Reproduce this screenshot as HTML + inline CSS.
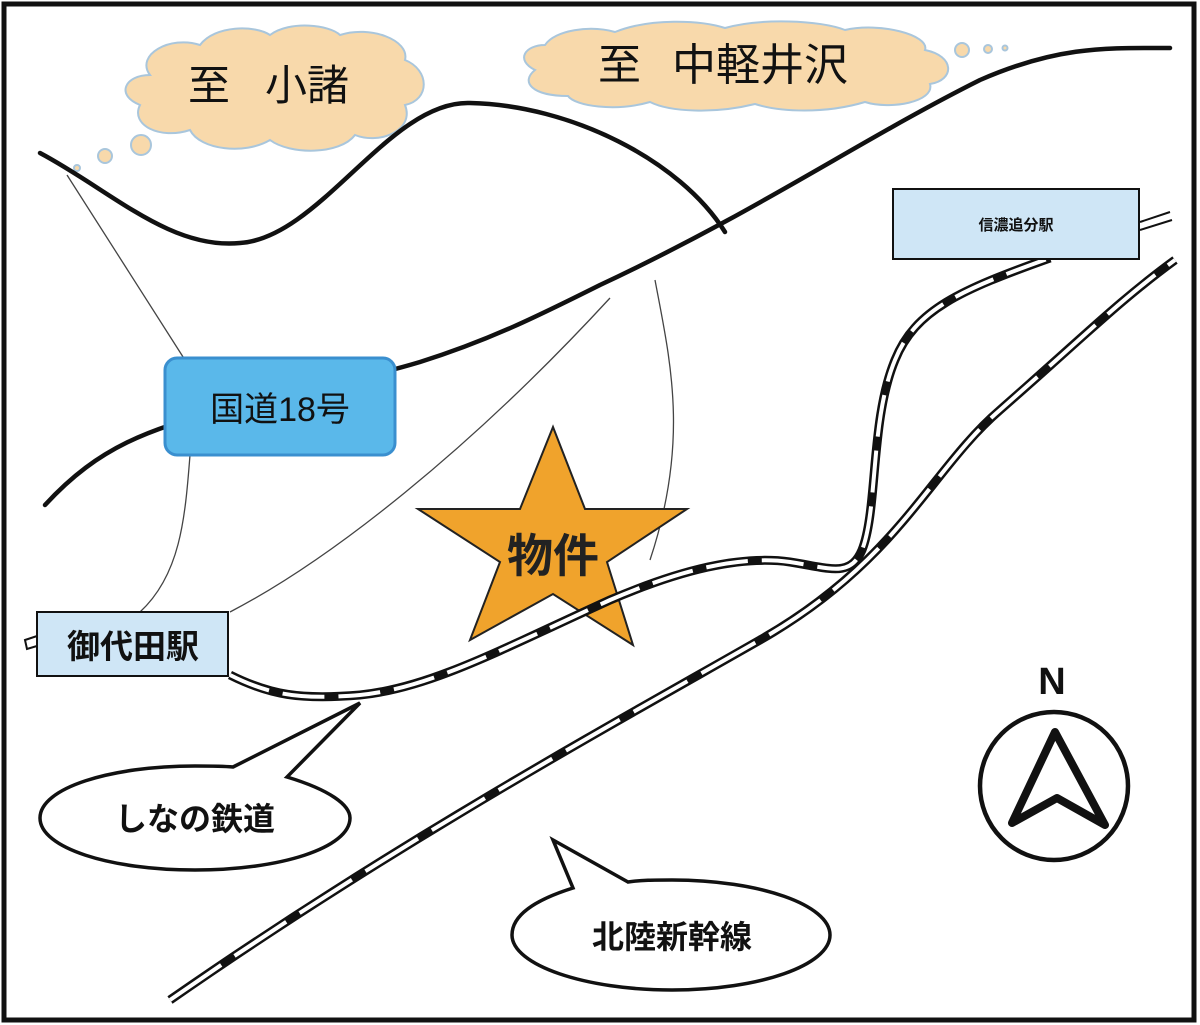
<!DOCTYPE html>
<html><head><meta charset="utf-8"><style>
html,body{margin:0;padding:0;background:#fff;}
svg{display:block;}
text{font-family:"Liberation Sans","Noto Sans CJK JP",sans-serif;}
</style></head><body>
<svg width="1200" height="1025" viewBox="0 0 1200 1025" xmlns="http://www.w3.org/2000/svg">
<rect x="0" y="0" width="1200" height="1025" fill="#fff"/>
<rect x="4" y="4" width="1190" height="1016" fill="none" stroke="#111" stroke-width="5"/>

<!-- clouds -->
<g fill="#f8d9ab" stroke="#a9c6dc" stroke-width="2">
 <path d="M150,75 C135,55 170,35 200,45 C215,25 255,25 270,35 C290,20 330,25 340,35 C370,25 410,40 405,60 C430,70 430,100 405,105 C415,130 380,145 355,135 C340,155 290,155 270,140 C245,155 200,150 190,130 C160,140 130,125 140,105 C115,95 125,75 150,75 Z"/>
 <circle cx="141" cy="145" r="10"/><circle cx="105" cy="156" r="7"/><circle cx="77" cy="168" r="3"/>
 <path d="M545,45 C555,30 590,25 615,32 C650,18 700,20 725,28 C760,18 820,20 845,30 C880,22 930,35 925,50 C955,56 955,80 930,84 C935,102 890,110 865,102 C825,114 780,112 755,104 C715,114 670,112 650,102 C615,112 575,106 568,96 C532,96 520,82 535,70 C515,60 525,45 545,45 Z"/>
 <circle cx="962" cy="50" r="7"/><circle cx="988" cy="49" r="4"/><circle cx="1005" cy="48" r="2.5"/>
</g>
<text x="188" y="100" font-size="42" fill="#111">至</text>
<text x="265" y="100" font-size="42" fill="#111">小諸</text>
<text x="598" y="80" font-size="43" fill="#111">至</text>
<text x="672" y="80" font-size="44" fill="#111">中軽井沢</text>

<!-- thin lines -->
<g fill="none" stroke="#444" stroke-width="1.3">
 <path d="M67,175 L185,360"/>
 <path d="M190,455 C185,520 180,575 140,612"/>
 <path d="M230,612 C330,560 470,450 610,298"/>
 <path d="M655,280 C670,360 690,440 650,560"/>
</g>

<!-- roads -->
<g fill="none" stroke="#111" stroke-width="4.5" stroke-linecap="round">
 <path d="M40,153 C110,190 170,250 240,243 C320,238 390,100 470,103 C570,105 680,160 725,232"/>
 <path d="M45,505 C100,445 150,430 220,410 C300,390 360,380 420,362 C490,340 540,315 600,285 C760,210 860,140 980,80 C1060,45 1110,48 1170,48"/>
</g>

<!-- 国道18号 box -->
<rect x="165" y="358" width="230" height="97" rx="12" fill="#5ab8ea" stroke="#3a8fcf" stroke-width="3"/>
<text x="280" y="421" font-size="34" text-anchor="middle" fill="#111">国道18号</text>

<!-- star -->
<polygon points="553,427 520,509 418,509 500,562 470,640 553,594 633,645 607,562 687,509 585,509" fill="#f0a32c" stroke="#222" stroke-width="2" stroke-miterlimit="10"/>
<text x="553" y="572" font-size="46" font-weight="bold" text-anchor="middle" fill="#222">物件</text>

<!-- rails -->
<g fill="none">
 <path d="M230,675 C270,695 300,700 360,695 C430,688 500,650 610,600 C680,570 740,555 790,562 C830,568 850,578 862,550 C878,510 870,420 895,360 C915,310 960,290 1050,258" stroke="#111" stroke-width="9"/>
 <path d="M230,675 C270,695 300,700 360,695 C430,688 500,650 610,600 C680,570 740,555 790,562 C830,568 850,578 862,550 C878,510 870,420 895,360 C915,310 960,290 1050,258" stroke="#fff" stroke-width="4" stroke-dasharray="42 14"/>
 <path d="M170,1000 C400,840 620,720 760,640 C900,560 930,470 1000,410 C1080,340 1120,300 1175,260" stroke="#111" stroke-width="9"/>
 <path d="M170,1000 C400,840 620,720 760,640 C900,560 930,470 1000,410 C1080,340 1120,300 1175,260" stroke="#fff" stroke-width="4" stroke-dasharray="62 16"/>
 <path d="M1140,222 L1170,212 M1140,230 L1172,220" stroke="#111" stroke-width="2"/>
 <path d="M25,640 L37,636 L37,646 L27,649 Z" stroke="#111" stroke-width="2" fill="#fff"/>
</g>

<!-- station boxes -->
<rect x="37" y="612" width="191" height="64" fill="#cfe6f6" stroke="#111" stroke-width="2"/>
<text x="133" y="658" font-size="33" font-weight="bold" text-anchor="middle" fill="#111">御代田駅</text>
<rect x="893" y="189" width="246" height="70" fill="#cfe6f6" stroke="#111" stroke-width="2"/>
<text x="1016" y="230" font-size="15" font-weight="bold" text-anchor="middle" fill="#111">信濃追分駅</text>

<!-- callouts -->
<path d="M233,767 L360,703 L287,777 C330,790 350,805 350,818 C350,848 280,870 195,870 C110,870 40,848 40,818 C40,788 110,766 195,766 C210,766 222,766 233,767 Z" fill="#fff" stroke="#111" stroke-width="3.5" stroke-linejoin="miter"/>
<text x="195" y="830" font-size="32" font-weight="bold" text-anchor="middle" fill="#111">しなの鉄道</text>
<path d="M628,882 L553,840 L573,888 C535,900 512,915 512,935 C512,965 585,990 672,990 C760,990 830,965 830,935 C830,905 760,880 672,880 C655,880 640,880 628,882 Z" fill="#fff" stroke="#111" stroke-width="3.5"/>
<text x="672" y="948" font-size="32" font-weight="bold" text-anchor="middle" fill="#111">北陸新幹線</text>

<!-- compass -->
<text x="1052" y="694" font-size="38" font-weight="bold" text-anchor="middle" fill="#111">N</text>
<circle cx="1054" cy="786" r="74" fill="none" stroke="#111" stroke-width="4.5"/>
<polygon points="1055,732 1012,823 1057,798 1105,825" fill="none" stroke="#111" stroke-width="8" stroke-linejoin="round"/>
</svg>
</body></html>
